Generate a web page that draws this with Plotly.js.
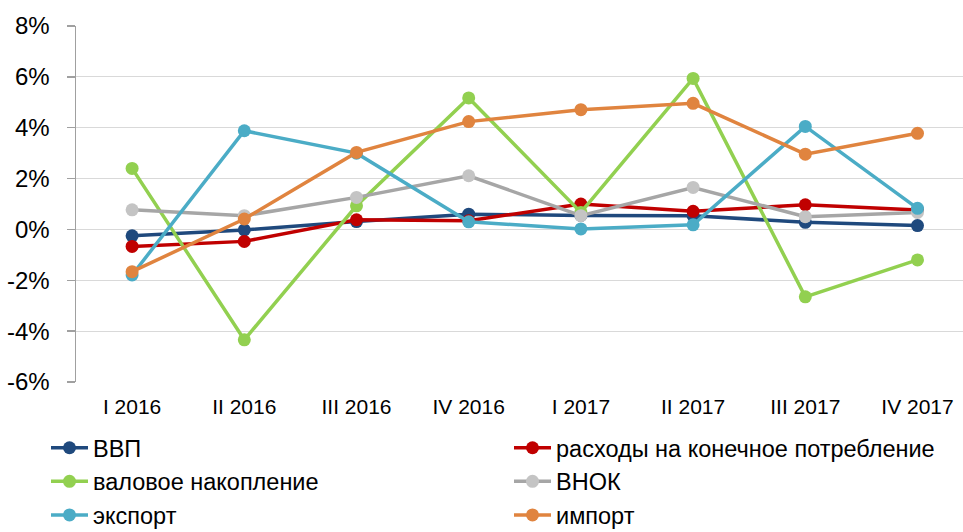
<!DOCTYPE html>
<html>
<head>
<meta charset="utf-8">
<script src="https://cdn.plot.ly/plotly-3.0.1.min.js"></script>
<style>html,body{margin:0;padding:0;background:#fff;}#chart{width:963px;height:532px;}</style>
</head>
<body>
<div id="chart"></div>
<script>
const categories = ["I 2016", "II 2016", "III 2016", "IV 2016", "I 2017", "II 2017", "III 2017", "IV 2017"];
const seriesNames = ["ВВП", "расходы на конечное потребление", "валовое накопление", "ВНОК", "экспорт", "импорт"];
const gdp         = [-0.25, -0.02, 0.31, 0.60, 0.55, 0.54, 0.28, 0.15];
const consumption = [-0.67, -0.47, 0.38, 0.34, 1.00, 0.71, 0.97, 0.76];
const accumulation= [2.40, -4.34, 0.93, 5.17, 0.67, 5.94, -2.65, -1.20];
const gfcf        = [0.77, 0.54, 1.26, 2.11, 0.54, 1.65, 0.50, 0.67];
const exportVals  = [-1.79, 3.88, 3.00, 0.30, 0.02, 0.18, 4.05, 0.83];
const importVals  = [-1.66, 0.41, 3.03, 4.24, 4.71, 4.96, 2.96, 3.78];
const yTicks = [-6, -4, -2, 0, 2, 4, 6, 8];

const values = [gdp, consumption, accumulation, gfcf, exportVals, importVals];
const lineColors = ["#1F497D", "#C00000", "#92D050", "#A6A6A6", "#4BACC6", "#E0843F"];
const markerColors = ["#1F497D", "#C00000", "#92D050", "#C4C4C4", "#4BACC6", "#E0843F"];
const legendIds = ["legend", "legend2", "legend", "legend2", "legend", "legend2"];

const traces = values.map((v, i) => ({
  type: "scatter",
  mode: "lines+markers",
  name: seriesNames[i],
  x: categories,
  y: v,
  line: {color: lineColors[i], width: 3.5},
  marker: {color: markerColors[i], size: 13},
  legend: legendIds[i],
  hoverinfo: "skip"
}));

const font = {family: "Liberation Sans, Arial, sans-serif", color: "#000"};
const mL = 76, mT = 26, plotW = 963 - mL, plotH = 382 - mT;
const catW = 112.2;
const xMax = -0.5 + plotW / catW;
const px2x = p => (p - mL) / plotW;
const py2y = p => (mT + plotH - p) / plotH;

const layout = {
  width: 963, height: 532,
  margin: {l: mL, r: 0, t: mT, b: 532 - mT - plotH, autoexpand: false},
  paper_bgcolor: "#fff", plot_bgcolor: "#fff",
  font: font,
  showlegend: true,
  xaxis: {
    type: "category",
    range: [-0.5, xMax],
    showline: false, showgrid: false, zeroline: false,
    ticks: "",
    tickangle: 0,
    tickfont: {size: 21, family: font.family, color: "#000"},
    ticklabelstandoff: 10,
    fixedrange: true
  },
  xaxis2: {
    type: "linear",
    overlaying: "x",
    anchor: "free",
    position: (0 - yTicks[0]) / (yTicks[yTicks.length - 1] - yTicks[0]),
    range: [-0.5, xMax],
    tick0: -0.5, dtick: 1,
    showline: true, linecolor: "#A0A0A0", linewidth: 1.5,
    ticks: "outside", ticklen: 6, tickcolor: "#A0A0A0", tickwidth: 1.5,
    showticklabels: false, showgrid: false, zeroline: false
  },
  yaxis: {
    range: [yTicks[0], yTicks[yTicks.length - 1]],
    tickvals: yTicks,
    ticktext: yTicks.map(v => v + "%"),
    showgrid: true, gridcolor: "#D9D9D9", gridwidth: 1.2,
    zeroline: false,
    showline: true, linecolor: "#A0A0A0", linewidth: 1.5,
    ticks: "outside", ticklen: 8, tickcolor: "#A0A0A0", tickwidth: 1.5,
    tickfont: {size: 24, family: font.family, color: "#000"},
    ticklabelstandoff: 12,
    fixedrange: true
  },
  legend: {
    xref: "paper", yref: "paper",
    x: px2x(46), y: py2y(426), xanchor: "left", yanchor: "top",
    orientation: "v",
    font: {size: 23.5, family: font.family, color: "#000"},
    bgcolor: "rgba(0,0,0,0)", borderwidth: 0, itemwidth: 37
  },
  legend2: {
    xref: "paper", yref: "paper",
    x: px2x(509), y: py2y(426), xanchor: "left", yanchor: "top",
    orientation: "v",
    font: {size: 23.5, family: font.family, color: "#000"},
    bgcolor: "rgba(0,0,0,0)", borderwidth: 0, itemwidth: 37
  }
};

Plotly.newPlot("chart", traces, layout, {displayModeBar: false, staticPlot: true});
</script>
</body>
</html>
